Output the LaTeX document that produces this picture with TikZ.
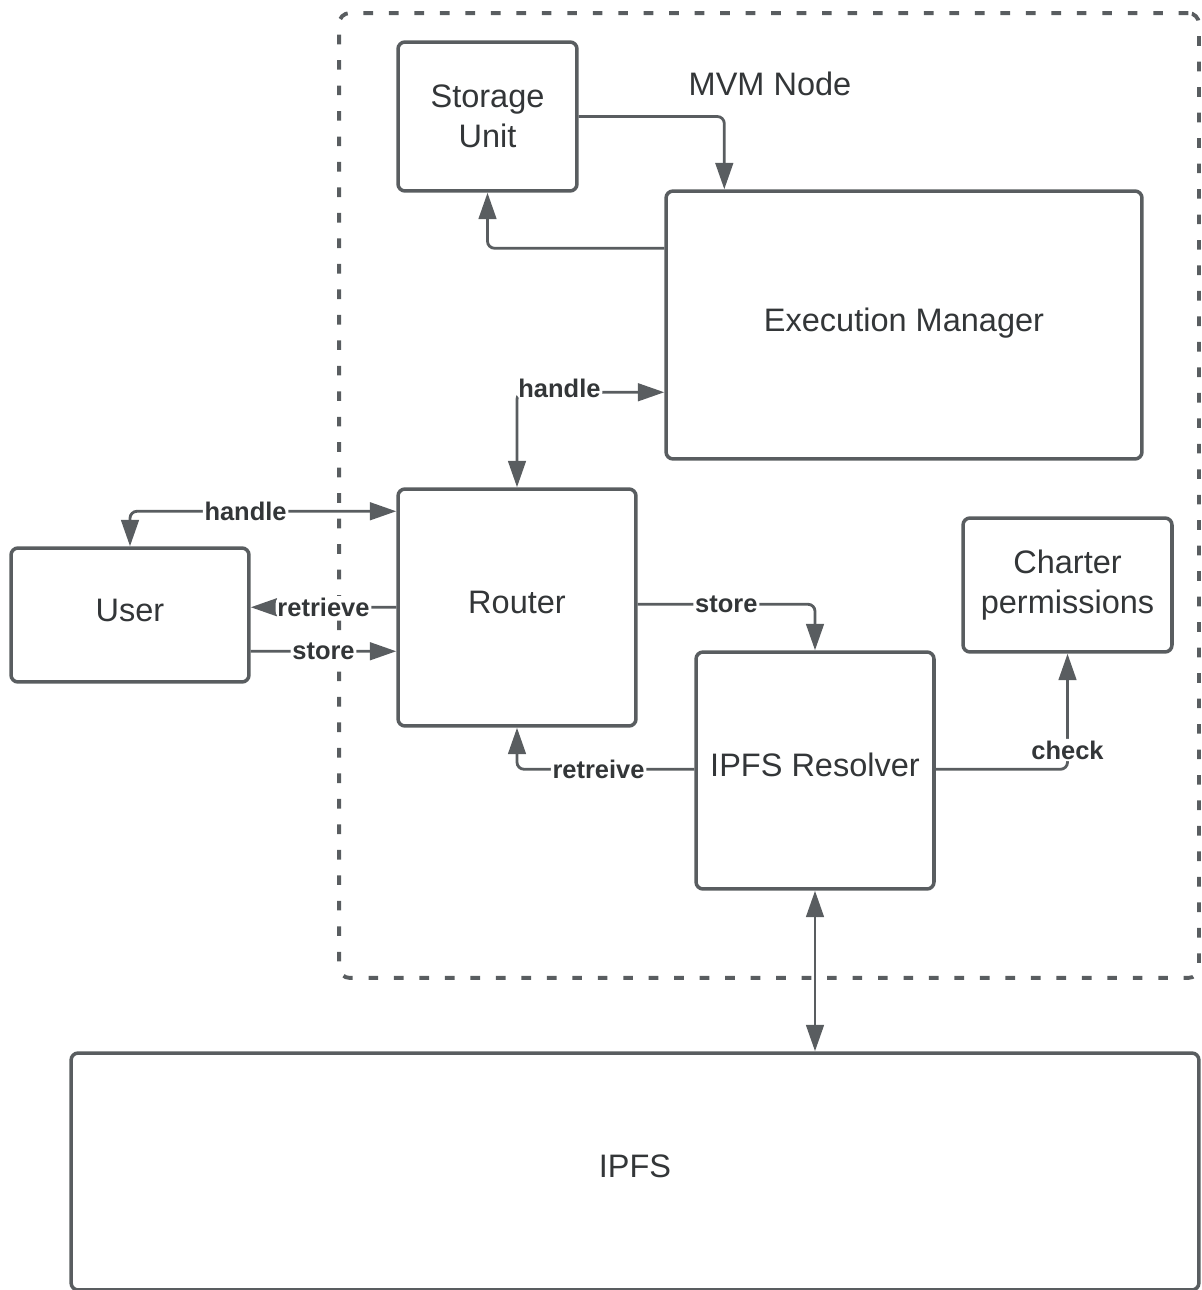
\documentclass[tikz,border=0pt]{standalone}
\usepackage{fontspec}
\setmainfont{Liberation Sans}
\usepackage{tikz}
\usetikzlibrary{arrows.meta,calc}
\definecolor{linegray}{HTML}{595D60}
\definecolor{textgray}{HTML}{333638}

\begin{document}
\begin{tikzpicture}[x=0.02cm, y=-0.02cm,
  box/.style={draw=linegray, line width=2pt, rounded corners=4pt, text=textgray,
    font=\fontsize{18.5}{22.5}\selectfont, align=center, inner sep=0pt},
  raised/.style={text height=13pt, text depth=6pt},
  tip/.style={-{Triangle[length=15pt,width=10pt]}},
  conn/.style={draw=linegray, line width=1.6pt, rounded corners=4pt},
  lbl/.style={fill=white, text=textgray, font=\bfseries\fontsize{14.5}{17}\selectfont, inner sep=1pt}]
  \useasboundingbox (0,0) rectangle (1201,1290);

  % MVM node container
  \node[draw=linegray, line width=2.2pt, dash pattern=on 5.5pt off 9pt, rounded corners=6pt,
    minimum width=17.2cm, minimum height=19.3cm, inner sep=0pt] (mvm) at (769,495.5) {};
  \node[text=textgray, font=\fontsize{18.5}{22.5}\selectfont] (mvmlabel) at (770,84) {MVM Node};

  % boxes
  \node[box, minimum width=3.58cm, minimum height=2.98cm] (storage) at (487.5,116.5) {Storage\\Unit};
  \node[box, raised, minimum width=9.52cm, minimum height=5.36cm] (exec) at (904,325) {Execution Manager};
  \node[box, raised, minimum width=4.76cm, minimum height=4.74cm] (router) at (517,607.5) {Router};
  \node[box, raised, minimum width=4.76cm, minimum height=2.68cm] (user) at (130,615) {User};
  \node[box, minimum width=4.18cm, minimum height=2.68cm] (charter) at (1067.5,585) {Charter\\permissions};
  \node[box, raised, minimum width=4.76cm, minimum height=4.74cm] (resolver) at (815,770.5) {IPFS Resolver};
  \node[box, raised, minimum width=22.56cm, minimum height=4.74cm] (ipfs) at (635,1171.5) {IPFS};

  % connectors
  \draw[conn, tip] (storage.east) -| ($(exec.north west)+(60,0)$);
  \draw[conn, tip] ($(exec.north west)+(0,59)$) -| (storage.south);
  \draw[conn, {Triangle[length=15pt,width=10pt]}-{Triangle[length=15pt,width=10pt]}]
    (router.north) |- ($(exec.north west)+(0,203)$) node[pos=0.5, lbl, anchor=west, xshift=-1pt, yshift=2pt] {handle};
  \draw[conn, {Triangle[length=15pt,width=10pt]}-{Triangle[length=15pt,width=10pt]}]
    (user.north) |- ($(router.north west)+(0,24)$) node[pos=0.717, lbl] {handle};
  \draw[conn, tip] ($(router.north west)+(0,120)$) -- ($(user.north east)+(0,61)$) node[midway, lbl] {retrieve};
  \draw[conn, tip] ($(user.north east)+(0,105)$) -- ($(router.north west)+(0,164)$) node[midway, lbl] {store};
  \draw[conn, tip] ($(router.north east)+(0,117)$) -| (resolver.north) node[pos=0.25, lbl] {store};
  \draw[conn, tip] ($(resolver.north west)+(0,119)$) -| (router.south) node[pos=0.27, lbl] {retreive};
  \draw[conn, tip] ($(resolver.north east)+(0,119)$) -| (charter.south) node[pos=0.5, lbl, yshift=11pt] {check};
  \draw[conn, {Triangle[length=15pt,width=10pt]}-{Triangle[length=15pt,width=10pt]}]
    (resolver.south) -- (resolver.south |- ipfs.north);
\end{tikzpicture}
\end{document}
